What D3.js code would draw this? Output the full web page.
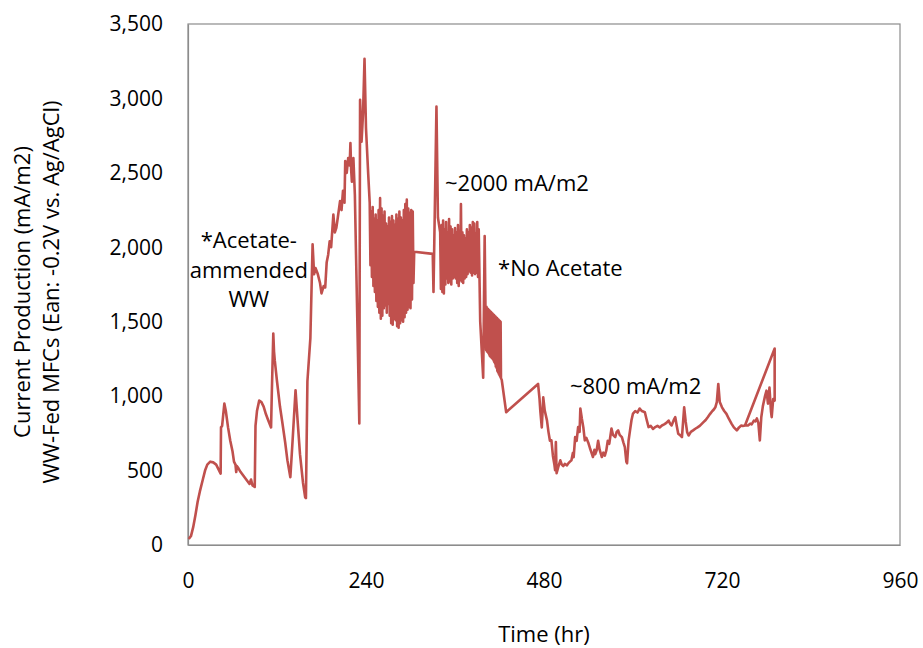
<!DOCTYPE html>
<html>
<head>
<meta charset="utf-8">
<script src="https://cdn.jsdelivr.net/npm/d3@7/dist/d3.min.js"></script>
<style>
  html, body { margin: 0; padding: 0; background: #ffffff; }
  svg { display: block; }
  text { font-family: "Open Sans", "Noto Sans", sans-serif; fill: #000; }
</style>
</head>
<body>
<svg id="chart" width="923" height="648"></svg>
<script>
// ---------------- DATA ----------------
const xTicks = [0, 240, 480, 720, 960];
const yTicks = [0, 500, 1000, 1500, 2000, 2500, 3000, 3500];
const xTitle = "Time (hr)";
const yTitleLines = ["Current Production (mA/m2)", "WW-Fed MFCs (Ean: -0.2V vs. Ag/AgCl)"];

// [time (hr), current (mA/m2)]
const startup = [
  [1,40],[4,60],[7,120],[10,200],[13,290],[16,360],[20,440],[23,500],[26,540],[30,560],[34,555],[38,540],
  [42,500],[44,480],[44.5,790],[46,800],[49,950],[51,900],[54,790],[57,700],[60,630],[62,560],[64,540],
  [65,490],[66,530],[68,515],[71,490],[74,470],[77,450],[80,430],[83,410],[85,440],[87,400],[90,390],
  [91,800],[93,900],[96,970],[99,960],[102,930],[105,880],[108,840],[112,790],[113,1020],[115,1420],
  [116,1300],[117,1240],[120,1100],[124,930],[127,830],[131,690],[134,570],[138,455],[141,700],[145,1040],
  [148,820],[151,610],[155,420],[158,320],[159,315],[161,1100],[165,1390],[168,2020],[170,1820],[172,1860],
  [175,1820],[178,1760],[180,1690],[183,1740],[185,1730],[187,1900],[189,1950],[191,2040],[193,2000],
  [196,2220],[198,2100],[200,2130],[202,2200],[205,2310],[207,2250],[209,2380],[211,2300],[212,2580],
  [214,2500],[216,2600],[218,2550],[219,2700],[220,2520],[221,2440],[223,2600],[225,2350],[231,816],
  [232,2990],[234,2710],[236,2900],[238,3266],[240,2800],[243,2490]
];
const acetateBand = [
  [245,2300],[246,1880],[247,2240],[248,1800],[249,2270],[250,1740],[251,2190],[252,1700],[253,2220],
  [254,1640],[255,2180],[256,1600],[257,2250],[258,1560],[259,2330],[260,1520],[261,2260],[262,1540],
  [263,2210],[264,1590],[265,2240],[266,1610],[267,2160],[268,1560],[269,2140],[270,1620],[271,2200],
  [272,1540],[273,2170],[274,1490],[275,2210],[276,1480],[277,2180],[278,1520],[279,2150],[280,1510],
  [281,2220],[282,1470],[283,2190],[284,1460],[285,2240],[286,1490],[287,2200],[288,1510],[289,2180],
  [290,1500],[291,2250],[292,1530],[293,2290],[294,1560],[295,2320],[296,1580],[297,2260],[298,1600],
  [299,2230],[300,1590],[301,2250],[302,1650],[303,2240],[304,1760],[305,1970],
  [330,1956],[331,1700],[335,2945],[337,2200],[340,2100]
];
const steadyBand = [
  [341,1720],[342,2150],[343,1700],[344,2180],[345,1690],[346,2120],[347,1750],[348,2170],[349,1790],
  [350,2100],[351,1760],[352,2190],[353,1770],[354,2140],[355,1750],[356,2120],[357,1790],[358,2080],
  [359,1800],[360,2130],[361,1790],[362,2100],[363,1760],[364,2150],[365,1740],[366,2110],[367,1780],
  [368,2290],[369,1770],[370,2100],[371,1760],[372,2080],[373,1790],[374,2060],[375,1800],[376,2120],
  [377,1820],[378,2100],[379,1840],[380,2150],[381,1830],[382,2130],[383,1810],[384,2170],[385,1830],
  [386,2160],[387,1820],[388,2090],[389,1830],[390,2170],[391,1800],[392,2120],[394,1500],[398,1124],
  [400,2075],[401,1620]
];
const noAcetateBand = [
  [402,1310],[402.5,1600],[403,1300],[403.5,1590],[404,1300],[404.5,1585],[405,1290],[405.5,1580],
  [406,1280],[406.5,1575],[407,1270],[407.5,1570],[408,1265],[408.5,1565],[409,1260],[409.5,1560],
  [410,1255],[410.5,1555],[411,1250],[411.5,1550],[412,1240],[412.5,1545],[413,1230],[413.5,1540],
  [414,1220],[414.5,1535],[415,1200],[415.5,1530],[416,1190],[416.5,1525],[417,1170],[417.5,1520],
  [418,1160],[418.5,1515],[419,1150],[419.5,1510],[420,1140],[420.5,1505],[421,1130],[421.5,1500],
  [422,1120],[423,1110],[429,892],[472,1082]
];
const lowPhase = [
  [474,980],[475,903],[477,790],[479,992],[481,903],[484,837],[486,760],[488,700],[490,703],[492,600],
  [494,540],[495,502],[496,691],[497,482],[499,520],[502,569],[504,540],[506,530],[508,545],[511,535],
  [513,550],[515,560],[517,569],[519,620],[520,590],[522,725],[524,700],[526,792],[528,760],[529,917],
  [531,850],[533,792],[535,703],[537,720],[540,683],[542,650],[544,620],[546,591],[548,640],[549,610],
  [551,636],[553,700],[555,640],[558,591],[560,620],[562,600],[564,636],[566,700],[568,680],[571,783],
  [573,740],[576,725],[578,760],[580,770],[582,740],[585,725],[587,690],[589,658],[591,560],[592,549],
  [594,700],[596,770],[598,840],[600,883],[603,900],[606,890],[609,917],[612,900],[616,892],[618,850],
  [621,792],[624,800],[627,780],[630,792],[633,800],[636,790],[639,803],[642,810],[645,820],[648,836],
  [650,815],[652,803],[655,840],[657,859],[659,800],[661,747],[663,740],[666,725],[669,925],[671,830],
  [673,758],[675,736],[678,760],[681,770],[684,781],[687,790],[690,800],[693,815],[695,825],[698,840],
  [701,860],[704,881],[707,900],[709,910],[711,925],[713,960],[715,1082],[717,960],[720,925],[723,900],
  [726,881],[729,850],[733,814],[736,790],[740,770],[743,790],[746,803],[748,800],[751,803],[755,803],
  [758,815],[760,810],[763,836],[765,830],[767,850],[769,820],[771,703],[773,860],[775,930],[778,1000],
  [780,1037],[782,950],[784,1057],[786,900],[787,859],[789,980],[791,970],[791,1320],[751,803]
];

const series = [].concat(startup, acetateBand, steadyBand, noAcetateBand, lowPhase);

const notes = [
  { lines: ["*Acetate-", "ammended", "WW"], t: 82, v: 1994, anchor: "middle" },
  { lines: ["~2000 mA/m2"], t: 346.5, v: 2376, anchor: "start" },
  { lines: ["*No Acetate"], t: 418, v: 1807, anchor: "start" },
  { lines: ["~800 mA/m2"], t: 515, v: 1017, anchor: "start" }
];

// ---------------- CHART ----------------
const svg = d3.select("#chart");
const plot = { left: 188, right: 900, top: 24, bottom: 545 };

const x = d3.scaleLinear().domain([0, 960]).range([plot.left, plot.right]);
const y = d3.scaleLinear().domain([0, 3500]).range([plot.bottom, plot.top]);

// plot border
svg.append("rect")
  .attr("x", plot.left).attr("y", plot.top)
  .attr("width", plot.right - plot.left).attr("height", plot.bottom - plot.top)
  .attr("fill", "none").attr("stroke", "#8c8c8c").attr("stroke-width", 1.2);

// axes
const xAxis = svg.append("g")
  .attr("transform", `translate(0,${plot.bottom})`)
  .call(d3.axisBottom(x).tickValues(xTicks).tickSize(0).tickPadding(28).tickFormat(d3.format("d")));
const yAxis = svg.append("g")
  .attr("transform", `translate(${plot.left},0)`)
  .call(d3.axisLeft(y).tickValues(yTicks).tickSize(0).tickPadding(25).tickFormat(d3.format(",")));
[xAxis, yAxis].forEach(g => {
  g.select(".domain").attr("stroke", "#8c8c8c").attr("stroke-width", 1.2);
  g.selectAll("text").style("font-family", '"Open Sans", sans-serif').style("font-size", "21px").attr("fill", "#000");
});

// line
const line = d3.line().x(d => x(d[0])).y(d => y(d[1]));
svg.append("path")
  .datum(series)
  .attr("d", line)
  .attr("fill", "none")
  .attr("stroke", "#C0504D")
  .attr("stroke-width", 2.6)
  .attr("stroke-linejoin", "round");

// annotations
notes.forEach(n => {
  const t = svg.append("text")
    .attr("x", x(n.t)).attr("y", y(n.v))
    .attr("text-anchor", n.anchor)
    .style("font-size", "22px");
  n.lines.forEach((s, i) => {
    t.append("tspan").attr("x", x(n.t)).attr("dy", i === 0 ? 0 : 29.5).text(s);
  });
});

// axis titles
svg.append("text")
  .attr("x", (plot.left + plot.right) / 2).attr("y", 642)
  .attr("text-anchor", "middle").style("font-size", "22px")
  .text(xTitle);

yTitleLines.forEach((s, i) => {
  svg.append("text")
    .attr("transform", `translate(${30 + i * 29},292) rotate(-90)`)
    .attr("text-anchor", "middle").style("font-size", "22px")
    .text(s);
});
</script>
</body>
</html>
